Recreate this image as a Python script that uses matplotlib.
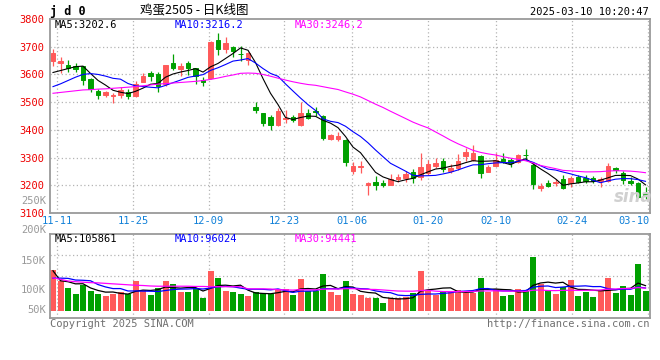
import numpy as np
import pandas as pd
import matplotlib
matplotlib.use("Agg")
import matplotlib.pyplot as plt
import matplotlib.transforms as mtransforms

# daily candles jd2505, 2024-11-08 .. 2025-03-10
open_ = [3650, 3640, 3635, 3630, 3630, 3582, 3540, 3524, 3521, 3525,
         3537, 3523, 3574, 3606, 3602, 3565, 3643, 3620, 3643, 3622,
         3580, 3587, 3724, 3690, 3699, 3674, 3653, 3484, 3461, 3447,
         3418, 3440, 3446, 3416, 3461, 3467, 3451, 3368, 3368, 3363,
         3251, 3265, 3201, 3213, 3209, 3201, 3222, 3225, 3249, 3229,
         3243, 3270, 3288, 3253, 3262, 3306, 3291, 3306, 3249, 3270,
         3296, 3291, 3283, 3311, 3273, 3192, 3210, 3207, 3221, 3210,
         3231, 3228, 3228, 3216, 3216, 3261, 3246, 3215, 3209, 3173]
high = [3692, 3662, 3653, 3642, 3632, 3588, 3546, 3541, 3534, 3556,
        3546, 3578, 3604, 3614, 3610, 3635, 3675, 3642, 3650, 3624,
        3590, 3720, 3750, 3734, 3702, 3702, 3680, 3500, 3462, 3452,
        3478, 3472, 3453, 3502, 3475, 3481, 3455, 3386, 3393, 3367,
        3283, 3286, 3213, 3232, 3219, 3242, 3242, 3253, 3258, 3318,
        3291, 3297, 3297, 3277, 3313, 3333, 3345, 3310, 3273, 3318,
        3315, 3298, 3312, 3330, 3285, 3207, 3219, 3222, 3237, 3233,
        3237, 3237, 3233, 3231, 3279, 3267, 3250, 3231, 3213, 3195]
low = [3632, 3605, 3608, 3610, 3562, 3537, 3512, 3520, 3498, 3515,
       3510, 3518, 3572, 3578, 3538, 3560, 3617, 3596, 3598, 3565,
       3558, 3582, 3670, 3677, 3662, 3650, 3634, 3461, 3413, 3400,
       3415, 3424, 3427, 3414, 3438, 3451, 3365, 3362, 3359, 3271,
       3241, 3243, 3165, 3183, 3193, 3200, 3213, 3213, 3207, 3219,
       3237, 3261, 3249, 3246, 3255, 3289, 3286, 3227, 3247, 3268,
       3279, 3265, 3279, 3294, 3187, 3181, 3193, 3197, 3187, 3193,
       3207, 3207, 3210, 3195, 3213, 3243, 3203, 3201, 3153, 3150]
close = [3678, 3650, 3622, 3620, 3580, 3546, 3524, 3538, 3526, 3545,
         3521, 3565, 3596, 3596, 3560, 3633, 3623, 3631, 3624, 3593,
         3571, 3718, 3692, 3713, 3683, 3672, 3676, 3470, 3424, 3418,
         3468, 3443, 3434, 3460, 3444, 3463, 3371, 3383, 3379, 3285,
         3271, 3270, 3207, 3201, 3202, 3224, 3231, 3241, 3228, 3265,
         3277, 3282, 3258, 3261, 3286, 3321, 3318, 3246, 3265, 3293,
         3288, 3280, 3309, 3308, 3203, 3196, 3196, 3213, 3192, 3228,
         3213, 3217, 3214, 3221, 3270, 3256, 3218, 3210, 3158, 3166]
volume_k = [172, 123, 95, 70, 107, 84, 70, 60, 72, 78,
            70, 126, 87, 65, 95, 126, 112, 77, 77, 95,
            53, 168, 137, 84, 78, 70, 63, 78, 74, 72,
            92, 92, 67, 135, 81, 81, 156, 79, 66, 125,
            72, 66, 54, 54, 33, 54, 52, 59, 75, 168,
            87, 66, 80, 80, 87, 73, 73, 138, 80, 92,
            63, 66, 92, 84, 227, 114, 84, 72, 101, 129,
            63, 80, 59, 87, 138, 75, 104, 66, 198, 84]

# moving averages before the window fills (older data is off chart)
ma5_head = [3607, 3614, 3621, 3628]
ma10_head = [3556, 3566, 3578, 3590, 3600, 3603, 3600, 3594, 3586]
ma30_head = [3532, 3535, 3538, 3541, 3544, 3545, 3547, 3548, 3550, 3552,
             3554, 3556, 3559, 3562, 3565, 3567, 3569, 3571, 3573, 3575,
             3578, 3582, 3587, 3593, 3598, 3604, 3605, 3604, 3600]
vma5_head = [168, 126, 122, 113]
vma10_head = [137, 137, 136, 129, 128, 126, 110, 100, 93]
vma30_head = [138, 132, 125, 122, 120, 118, 117, 115, 113, 111,
              109, 107, 106, 104, 103, 103, 103, 103, 103, 102,
              102, 101, 101, 101, 101, 101, 92, 92, 92]

date_idx = [1, 11, 21, 31, 40, 50, 59, 69, 79]
date_lbl = ['11-11', '11-25', '12-09', '12-23', '01-06', '01-20', '02-10', '02-24', '03-10']

W, H = 660, 360
RED = '#ff5a5a'
GREEN = '#00a000'
GRID = '#b4b4b4'
FRAME = '#9a9a9a'
MONO = 'DejaVu Sans Mono'


def ma(values, n, head):
    s = pd.Series(values, dtype=float).rolling(n).mean()
    s.iloc[:len(head)] = head
    return s


def fx(px):
    return px / W


def fy(py):
    return 1 - py / H


x = np.arange(len(close))
o = np.array(open_)
c = np.array(close)
up = c >= o
cols = np.where(up, RED, GREEN)
vol = np.array(volume_k) * 1000

fig = plt.figure(figsize=(W / 100, H / 100), dpi=100)
ax = fig.add_axes([fx(50), fy(213), fx(600), 194 / H])
axv = fig.add_axes([fx(50), fy(318), fx(600), 84 / H])

# sina's date grid drifts a little against the candles
grid_x = [k - 0.45 + 0.0095 * k for k in date_idx]

for a in (ax, axv):
    a.set_xlim(-0.4, 79.6)
    for s in a.spines.values():
        s.set_color(FRAME)
        s.set_linewidth(1.3)
    for g in grid_x:
        a.axvline(g, color=GRID, lw=0.9, ls=(0, (1, 2)), zorder=0)
    a.set_xticks([])

# price panel
ax.set_ylim(3100, 3800)
for lvl in range(3200, 3800, 100):
    ax.axhline(lvl, color=GRID, lw=0.9, ls=(0, (1, 2)), zorder=0)
ax.vlines(x, low, high, colors=cols, lw=0.9, zorder=2)
ax.bar(x, c - o, bottom=o, width=0.66, color=cols, edgecolor=cols, lw=0.7, zorder=3)
ax.plot(x, ma(close, 5, ma5_head), color='black', lw=0.8, zorder=4)
ax.plot(x, ma(close, 10, ma10_head), color='#0000ff', lw=0.8, zorder=4)
ax.plot(x, ma(close, 30, ma30_head), color='#ff00ff', lw=0.8, zorder=4)
ax.set_yticks(range(3100, 3801, 100))
ax.tick_params(axis='y', length=0, pad=4, labelcolor='#ee0000', labelsize=7.5)
for t in ax.get_yticklabels():
    t.set_family(MONO)

trans = mtransforms.blended_transform_factory(ax.transData, ax.transAxes)
for g, lbl in zip(grid_x, date_lbl):
    ha = 'right' if lbl == date_lbl[-1] else 'center'
    xx = 79.55 if ha == 'right' else g
    ax.text(xx, -0.042, lbl, transform=trans, ha=ha, va='center',
            color='#1080d8', fontsize=7.5, family=MONO, clip_on=False)

# volume panel
axv.set_ylim(-30700, 322700)
for frac in (0.25, 0.5, 0.75):
    axv.plot([0, 1], [frac, frac], transform=axv.transAxes, color=GRID,
             lw=0.9, ls=(0, (1, 2)), zorder=0)
axv.bar(x, vol, width=0.8, color=cols, lw=0, zorder=2)
axv.plot(x, ma(vol, 5, np.array(vma5_head) * 1000), color='black', lw=0.9, zorder=4)
axv.plot(x, ma(vol, 10, np.array(vma10_head) * 1000), color='#0000ff', lw=0.9, zorder=4)
axv.plot(x, ma(vol, 30, np.array(vma30_head) * 1000), color='#ff00ff', lw=0.9, zorder=4)
axv.set_yticks([])

# texts
fig.text(fx(50), fy(11), 'j d 0', family=MONO, fontweight='bold', fontsize=8.5,
         va='center', ha='left')
fig.text(fx(140), fy(10), '鸡蛋2505 - 日K线图', family=['Noto Sans CJK SC', 'DejaVu Sans'],
         fontsize=9, va='center', ha='left')
fig.text(fx(649), fy(12), '2025-03-10 10:20:47', family=MONO, fontsize=7.5,
         va='center', ha='right')

fig.text(fx(55), fy(25), 'MA5:3202.6', family=MONO, fontsize=7.5, color='black', va='center')
fig.text(fx(175), fy(25), 'MA10:3216.2', family=MONO, fontsize=7.5, color='#0000ff', va='center')
fig.text(fx(295), fy(25), 'MA30:3246.2', family=MONO, fontsize=7.5, color='#ff00ff', va='center')

fig.text(fx(55), fy(239), 'MA5:105861', family=MONO, fontsize=7.5, color='black', va='center')
fig.text(fx(175), fy(239), 'MA10:96024', family=MONO, fontsize=7.5, color='#0000ff', va='center')
fig.text(fx(295), fy(239), 'MA30:94441', family=MONO, fontsize=7.5, color='#ff00ff', va='center')

for lbl, py in [('250K', 201), ('200K', 230), ('150K', 261), ('100K', 290), ('50K', 310)]:
    fig.text(fx(46), fy(py), lbl, family=MONO, fontsize=7.5, color='#999999',
             va='center', ha='right')

fig.text(fx(50), fy(324), 'Copyright 2025 SINA.COM', family=MONO, fontsize=7.5,
         color='#707070', va='center', ha='left')
fig.text(fx(649), fy(324), 'http://finance.sina.com.cn', family=MONO, fontsize=7.5,
         color='#707070', va='center', ha='right')

# faint sina watermark
fig.text(fx(633), fy(197), 'sina', fontsize=12, fontweight='bold', style='italic',
         color='#d0d0d0', va='center', ha='center', zorder=1)

fig.savefig('out.png', dpi=100)
